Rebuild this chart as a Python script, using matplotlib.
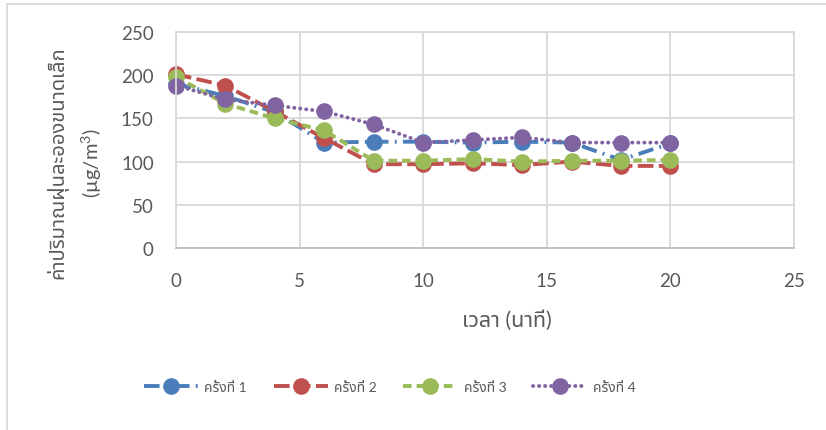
import matplotlib
matplotlib.use("Agg")
import matplotlib.pyplot as plt
from matplotlib import font_manager
from matplotlib.ft2font import FT2Font
from matplotlib.lines import Line2D

# ---- data ----
minutes = [0, 2, 4, 6, 8, 10, 12, 14, 16, 18, 20]
run1 = [190, 176, 157, 122, 123, 123, 122, 123, 122, 102, 121]
run2 = [201, 188, 158, 127, 97, 97, 98, 96, 100, 95, 95]
run3 = [198, 167, 150, 136, 101, 101, 103, 100, 101, 101, 102]
run4 = [188, 172, 165, 158, 143, 122, 125, 128, 122, 122, 122]
series_names = ["ครั้งที่ 1", "ครั้งที่ 2", "ครั้งที่ 3", "ครั้งที่ 4"]
xticks = [0, 5, 10, 15, 20, 25]
yticks = [0, 50, 100, 150, 200, 250]
ylabel = "ค่าปริมาณฝุ่นละอองขนาดเล็ก\n(µg/m$^3$)"
xlabel = "เวลา (นาที)"

# ---- fonts: find a family that has Thai glyphs ----
thai = []
for f in font_manager.fontManager.ttflist:
    try:
        if 0x0E04 in FT2Font(f.fname).get_charmap() and f.name not in thai:
            thai.append(f.name)
    except Exception:
        pass
pref = [n for n in ["Noto Sans Thai", "Noto Sans Thai UI", "Noto Sans", "Loma", "Garuda", "Tlwg Typist"] if n in thai]
thai_fams = pref + [n for n in thai if n not in pref]
fams = ["Lato"] + thai_fams[:2] + ["DejaVu Sans"]
plt.rcParams["font.family"] = fams
plt.rcParams["mathtext.fontset"] = "custom"
plt.rcParams["mathtext.rm"] = "Lato"

W, H = 826, 431
fig = plt.figure(figsize=(W / 100, H / 100), dpi=100)
L, R, T, B = 176, 794, 33, 249
ax = fig.add_axes([L / W, 1 - B / H, (R - L) / W, (B - T) / H])

colors = ["#4A7EBB", "#C0504D", "#9BBB59", "#8064A2"]
styles = [(0, (4, 1.6, 0.5, 1.6)), (0, (4, 1.4)), (0, (2.2, 1.3)), (0, (0.05, 1.5))]
caps = ["butt", "butt", "butt", "round"]
for ys, c, ls, cap, name in zip([run1, run2, run3, run4], colors, styles, caps, series_names):
    ax.plot(minutes, ys, color=c, linestyle=ls, linewidth=2.8, marker="o",
            markersize=12, markeredgewidth=0, dash_capstyle=cap,
            solid_capstyle=cap, label=name, clip_on=False)

ax.set_xlim(0, 25)
ax.set_ylim(0, 250)
ax.set_xticks(xticks)
ax.set_yticks(yticks)
ax.grid(True, color="#D9D9D9", linewidth=1.3)
ax.set_axisbelow(True)
for s in ax.spines.values():
    s.set_color("#D9D9D9")
    s.set_linewidth(1.3)
ax.spines["bottom"].set_color("#BFBFBF")
ax.tick_params(length=0, labelsize=13.5, labelcolor="#595959")
ax.tick_params(axis="y", pad=16)
ax.tick_params(axis="x", pad=17)

ax.set_ylabel(ylabel, fontsize=14.5, color="#595959", linespacing=1.55)
ax.yaxis.set_label_coords(-0.117, 0.40)
ax.set_xlabel(xlabel, fontsize=15.5, color="#595959")
ax.xaxis.set_label_coords(0.536, -0.285)

handles, labels = ax.get_legend_handles_labels()
leg = fig.legend(handles, labels, loc="center", bbox_to_anchor=(0.472, 1 - 388 / H),
                 ncol=4, frameon=False, fontsize=10, handlelength=3.9,
                 columnspacing=1.9, handletextpad=0.45, labelcolor="#595959")

# chart frame (left and top edges visible)
fig.add_artist(Line2D([7 / W, 7 / W], [0, 1 - 5 / H], color="#D9D9D9", linewidth=1.3))
fig.add_artist(Line2D([7 / W, 1], [1 - 5 / H, 1 - 5 / H], color="#D9D9D9", linewidth=1.3))

fig.savefig("out.png", dpi=100, facecolor="white")
